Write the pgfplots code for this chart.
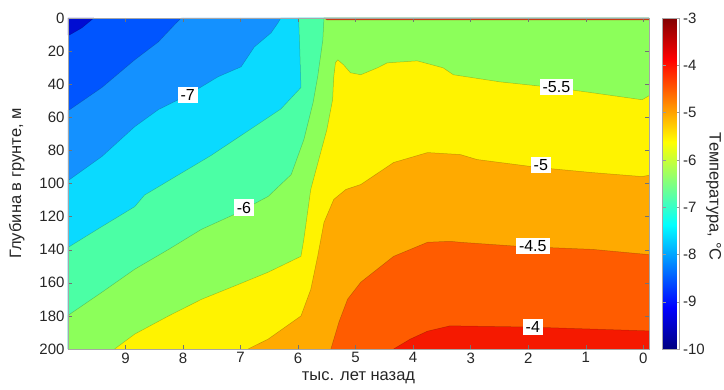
\documentclass[border=0pt]{standalone}
\usepackage{fontspec}
\setmainfont{Liberation Sans}
\usepackage{pgfplots}
\pgfplotsset{compat=1.18}

\definecolor{cDB}{RGB}{0,13,210}
\definecolor{cMB}{RGB}{0,85,255}
\definecolor{cLB}{RGB}{20,145,255}
\definecolor{cCY}{RGB}{10,218,255}
\definecolor{cAQ}{RGB}{75,255,165}
\definecolor{cGR}{RGB}{140,255,90}
\definecolor{cYE}{RGB}{255,243,0}
\definecolor{cOR}{RGB}{255,170,0}
\definecolor{cRO}{RGB}{255,92,0}
\definecolor{cRE}{RGB}{245,25,0}
\definecolor{cTOP}{RGB}{200,60,20}

\pgfplotsset{cl/.style={draw=black, draw opacity=0.22, line width=0.5pt, fill=none}}
\tikzset{lab/.style={fill=white, inner xsep=3pt, inner ysep=2.5pt, font=\fontsize{16}{18}\selectfont}}

\begin{document}
\begin{tikzpicture}[font=\fontsize{15}{17}\selectfont]
\begin{axis}[
  scale only axis, width=581pt, height=331pt,
  x dir=reverse, y dir=reverse,
  xmin=-0.1, xmax=10, ymin=0, ymax=200,
  xtick={0,...,9}, ytick={0,20,...,200},
  tick align=inside,
  major tick length=4pt,
  tick style={black!55, line width=0.4pt},
  axis line style={black!35, line width=0.4pt},
  tick label style={font=\fontsize{15}{17}\selectfont, text=black!85},
  label style={font=\fontsize{16.5}{18}\selectfont, text=black!85},
  /pgf/number format/assume math mode=true,
  xlabel={тыс. лет назад}, ylabel={Глубина в грунте, м},
  xlabel style={at={(axis description cs:0.5,-0.0876)}, anchor=center},
  ylabel style={at={(axis description cs:-0.088,0.5)}, anchor=center},
  colormap/jet,
  point meta min=-10, point meta max=-3,
  colorbar,
  colorbar style={
    width=17pt,
    at={(parent axis.north east)}, anchor=north west, xshift=5pt,
    ytick={-10,...,-3},
    yticklabel pos=right,
    tick align=inside, major tick length=3pt,
    tick style={black!40},
    axis line style={black!35},
    tick label style={font=\fontsize{15}{17}\selectfont, text=black!85},
    /pgf/number format/assume math mode=true,
    ylabel={Температура, °C},
    every axis y label/.style={at={(axis description cs:3.0,0.46)}, anchor=center, rotate=-90, font=\fontsize{16.5}{18}\selectfont, text=black!85},
  },
  axis on top,
]
\coordinate (SW) at (axis description cs:0,0);
\coordinate (NE) at (axis description cs:1,1);

% background (T between -8 and -7.5)
\addplot[fill=cMB, draw=none] coordinates {(10,0) (-0.1,0) (-0.1,200) (10,200)} -- cycle;
% T < -8 corner
\addplot[fill=cDB, draw=none] coordinates {(10,0) (9.55,0) (9.76,6) (9.97,10.2) (10,10.4)} -- cycle;
\addplot[cl] coordinates {(9.55,0) (9.76,6) (9.97,10.2) (10,10.4)};
% T > -7.5
\addplot[fill=cLB, draw=none] coordinates {(10,55.6) (9.97,55.4) (9.41,42) (8.84,25.3) (8.43,14.5) (8.15,4.2) (8.03,0) (-0.1,0) (-0.1,200) (10,200)} -- cycle;
\addplot[cl] coordinates {(10,55.6) (9.97,55.4) (9.41,42) (8.84,25.3) (8.43,14.5) (8.15,4.2) (8.03,0)};
% T > -7
\addplot[fill=cCY, draw=none] coordinates {(10,98) (9.97,97.6) (9.41,83.7) (8.84,65.7) (8.43,55.4) (7.91,46.4) (7.39,35.5) (6.99,29.5) (6.76,17.5) (6.47,9) (6.35,3) (6.30,0) (-0.1,0) (-0.1,200) (10,200)} -- cycle;
\addplot[cl] coordinates {(10,98) (9.97,97.6) (9.41,83.7) (8.84,65.7) (8.43,55.4) (7.91,46.4) (7.39,35.5) (6.99,29.5) (6.76,17.5) (6.47,9) (6.35,3) (6.30,0)};
% T > -6.5
\addplot[fill=cAQ, draw=none] coordinates {(10,138.5) (9.97,138) (9.41,126) (8.84,114) (8.67,107) (7.51,83) (6.30,55) (5.95,42) (5.97,20) (5.99,0) (-0.1,0) (-0.1,200) (10,200)} -- cycle;
\addplot[cl] coordinates {(10,138.5) (9.97,138) (9.41,126) (8.84,114) (8.67,107) (7.51,83) (6.30,55) (5.95,42) (5.97,20) (5.99,0)};
% T > -6
\addplot[fill=cGR, draw=none] coordinates {(10,179.5) (9.97,179) (9.41,165.7) (8.84,151.8) (8.25,139.8) (7.68,127.7) (7.11,118.7) (6.52,107.8) (6.12,94.6) (5.90,73.5) (5.74,51.2) (5.66,35.5) (5.57,13.3) (5.55,0) (-0.1,0) (-0.1,200) (10,200)} -- cycle;
\addplot[cl] coordinates {(10,179.5) (9.97,179) (9.41,165.7) (8.84,151.8) (8.25,139.8) (7.68,127.7) (7.11,118.7) (6.52,107.8) (6.12,94.6) (5.90,73.5) (5.74,51.2) (5.66,35.5) (5.57,13.3) (5.55,0)};
% T > -5.5
\addplot[fill=cYE, draw=none] coordinates {(9.19,200) (8.84,191) (8.25,180) (7.68,170) (7.11,162) (6.52,153.6) (5.95,144) (5.90,133.7) (5.78,103.6) (5.64,85.5) (5.50,67.5) (5.40,49.4) (5.38,35.5) (5.35,27) (5.31,25.3) (5.21,28.3) (5.09,33.1) (4.91,34.3) (4.62,30.1) (4.45,27.1) (3.93,25.9) (3.48,30.1) (3.30,34.3) (2.49,38.6) (1.51,42.2) (0.76,45.8) (0.02,49.4) (-0.1,47) (-0.1,200)} -- cycle;
\addplot[cl] coordinates {(9.19,200) (8.84,191) (8.25,180) (7.68,170) (7.11,162) (6.52,153.6) (5.95,144) (5.90,133.7) (5.78,103.6) (5.64,85.5) (5.50,67.5) (5.40,49.4) (5.38,35.5) (5.35,27) (5.31,25.3) (5.21,28.3) (5.09,33.1) (4.91,34.3) (4.62,30.1) (4.45,27.1) (3.93,25.9) (3.48,30.1) (3.30,34.3) (2.49,38.6) (1.51,42.2) (0.76,45.8) (0.02,49.4) (-0.1,47)};
% T > -5
\addplot[fill=cOR, draw=none] coordinates {(6.87,200) (6.52,194) (5.95,180) (5.78,164) (5.66,144) (5.55,123.5) (5.38,109.6) (5.17,103.6) (4.91,100.6) (4.34,87.3) (3.75,81.3) (3.18,82.5) (2.89,85.5) (1.80,90.4) (0.88,93.4) (0.02,95.8) (-0.1,95) (-0.1,200)} -- cycle;
\addplot[cl] coordinates {(6.87,200) (6.52,194) (5.95,180) (5.78,164) (5.66,144) (5.55,123.5) (5.38,109.6) (5.17,103.6) (4.91,100.6) (4.34,87.3) (3.75,81.3) (3.18,82.5) (2.89,85.5) (1.80,90.4) (0.88,93.4) (0.02,95.8) (-0.1,95)};
% T > -4.5
\addplot[fill=cRO, draw=none] coordinates {(5.43,200) (5.29,183.7) (5.14,169.9) (4.91,159.6) (4.34,144) (3.75,135.5) (3.36,134.9) (3.18,135.5) (2.15,138) (0.88,139.8) (-0.05,142.8) (-0.1,143) (-0.1,200)} -- cycle;
\addplot[cl] coordinates {(5.43,200) (5.29,183.7) (5.14,169.9) (4.91,159.6) (4.34,144) (3.75,135.5) (3.36,134.9) (3.18,135.5) (2.15,138) (0.88,139.8) (-0.05,142.8) (-0.1,143)};
% T > -4
\addplot[fill=cRE, draw=none] coordinates {(4.34,200) (4.05,194) (3.75,189.2) (3.36,186) (2.02,186.7) (-0.05,189) (-0.1,189) (-0.1,200)} -- cycle;
\addplot[cl] coordinates {(4.34,200) (4.05,194) (3.75,189.2) (3.36,186) (2.02,186.7) (-0.05,189) (-0.1,189)};
% warm surface row
\addplot[fill=cTOP, draw=none] coordinates {(5.55,0) (-0.1,0) (-0.1,1.3) (5.5,1.3)} -- cycle;

% contour labels
\node[lab] at (axis cs:7.92,46.4) {-7};
\node[lab] at (axis cs:6.94,114.5) {-6};
\node[lab] at (axis cs:1.51,41.6) {-5.5};
\node[lab] at (axis cs:1.78,89) {-5};
\node[lab] at (axis cs:1.92,138) {-4.5};
\node[lab] at (axis cs:1.92,186.7) {-4};
\end{axis}
\pgfresetboundingbox
\path ([shift={(-68pt,-41pt)}]SW) rectangle ([shift={(75pt,18pt)}]NE);
\end{tikzpicture}
\end{document}
